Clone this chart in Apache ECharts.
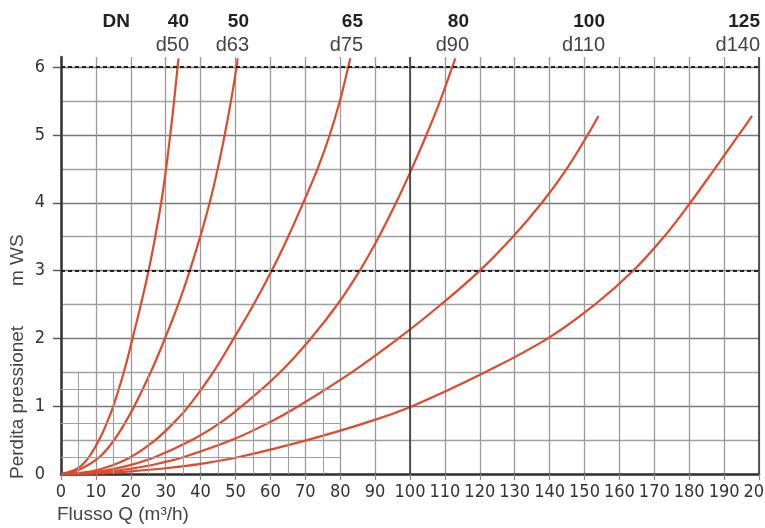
<!DOCTYPE html>
<html><head><meta charset="utf-8">
<script src="https://cdn.jsdelivr.net/npm/echarts@6/dist/echarts.min.js"></script>
<style>html,body{margin:0;padding:0;background:#fff}#c{width:765px;height:528px}</style>
</head><body><div id="c"></div>
<script>
// ---- data ----
const dnLabels = ['40', '50', '65', '80', '100', '125'];
const dLabels = ['d50', 'd63', 'd75', 'd90', 'd110', 'd140'];
const yLabelValues = [0, 1, 2, 3, 4, 5, 6];
const yTickValues = [1, 2, 3, 4, 5, 6];
const fineX = [5, 15, 25, 35, 45, 55, 65, 75];
const fineY = [0.25, 0.75, 1.25];
const fineXEnd = 80;
const fineYTop = 1.5;
const dashedY = [3, 6];
const darkX = [100, 200];

// [Q (m3/h), loss (m WS)]
const dn40 = [[0,0],[5,0.09],[8,0.25],[10.9,0.5],[13.1,0.75],[15,1],[18,1.5],[20.5,2],[22.9,2.5],[25.1,3],[27,3.5],[28.7,4],[30.1,4.5],[31.3,5],[32.4,5.5],[33.4,6],[33.7,6.13]];
const dn50 = [[0,0],[5,0.06],[11,0.25],[15.2,0.5],[18.3,0.75],[21,1],[25.7,1.5],[29.8,2],[33.6,2.5],[36.9,3],[39.9,3.5],[42.6,4],[44.9,4.5],[46.9,5],[48.7,5.5],[50.3,6],[50.6,6.13]];
const dn65 = [[0,0],[8,0.033],[14,0.114],[20,0.25],[27,0.5],[32.2,0.75],[36.6,1],[43.6,1.5],[49.5,2],[55.2,2.5],[60.4,3],[65.1,3.5],[69.4,4],[73.5,4.5],[77,5],[79.9,5.5],[82.3,6],[82.9,6.13]];
const dn80 = [[0,0],[10,0.03],[19,0.12],[27,0.25],[37.5,0.5],[45.5,0.75],[51.8,1],[62.8,1.5],[71.6,2],[79.2,2.5],[85.6,3],[91.1,3.5],[96,4],[100.5,4.5],[104.7,5],[108.6,5.5],[112.1,6],[113,6.13]];
const dn100 = [[0,0],[10,0.018],[20,0.077],[28,0.155],[35.2,0.25],[48.9,0.5],[59.3,0.75],[68,1],[83.3,1.5],[96.7,2],[108.9,2.5],[120,3],[129.5,3.5],[137.8,4],[144.9,4.5],[150.9,5],[154,5.28]];
const dn125 = [[0,0],[10,0.01],[20,0.04],[30,0.085],[40,0.15],[51,0.25],[70.5,0.5],[87,0.75],[100.6,1],[121.5,1.5],[139.5,2],[153,2.5],[164,3],[172.8,3.5],[180.3,4],[187.3,4.5],[194.2,5],[198,5.28]];
const curves = [dn40, dn50, dn65, dn80, dn100, dn125];

// ---- chart ----
const NARROW = '"Liberation Sans Narrow","DejaVu Sans Condensed","Arial Narrow",sans-serif';
const SANS = '"Liberation Sans",Arial,Helvetica,sans-serif';
const RED = '#e04a2c';

const chart = echarts.init(document.getElementById('c'), null, {renderer: 'canvas'});

const gridLines = [];
fineX.forEach(x => gridLines.push([{coord: [x, 0]}, {coord: [x, fineYTop]}]));
fineY.forEach(y => gridLines.push([{coord: [0, y]}, {coord: [fineXEnd, y]}]));

const darkLines = darkX.map(x => [{coord: [x, 0]}, {coord: [x, 6.15]}]);
const dashLines = dashedY.map(y => [{coord: [0, y]}, {coord: [200, y]}]);

function lineSet(data, style) {
  return {
    type: 'line', data: [], silent: true, z: 1,
    markLine: {silent: true, symbol: 'none', animation: false, label: {show: false}, lineStyle: style, data: data}
  };
}
const series = [
  lineSet(gridLines, {color: '#a0a0a0', width: 1.1, type: 'solid'}),
  lineSet(darkLines, {color: '#3a3a3a', width: 1.6, type: 'solid'}),
  lineSet(dashLines, {color: '#222', width: 2, type: [4, 3]})
];
curves.forEach((c, i) => series.push({
  type: 'line', name: dnLabels[i], data: c, smooth: 0.4, showSymbol: false, clip: false,
  lineStyle: {color: RED, width: 2.2}, z: 3, animation: false
}));

const graphics = [
  {type: 'text', x: 130, y: 21.5, style: {text: 'DN', font: 'bold 19px ' + SANS, fill: '#222', align: 'right', verticalAlign: 'middle'}}
];
const labelRight = [189, 249, 363, 469, 605, 760];
dnLabels.forEach((t, i) => {
  graphics.push({type: 'text', x: labelRight[i], y: 21.5, style: {text: t, font: 'bold 19px ' + SANS, fill: '#222', align: 'right', verticalAlign: 'middle'}});
  graphics.push({type: 'text', x: labelRight[i], y: 45, style: {text: dLabels[i], font: '20px ' + SANS, fill: '#444', align: 'right', verticalAlign: 'middle'}});
});
graphics.push({type: 'text', x: 57, y: 515, style: {text: 'Flusso Q (m³/h)', font: '19px ' + SANS, fill: '#444', align: 'left', verticalAlign: 'middle'}});
graphics.push({type: 'text', x: 18, y: 479, rotation: Math.PI / 2, style: {text: 'Perdita pressionet', font: '19px ' + SANS, fill: '#444', align: 'left', verticalAlign: 'middle'}});
graphics.push({type: 'text', x: 18, y: 286, rotation: Math.PI / 2, style: {text: 'm WS', font: '19px ' + SANS, fill: '#444', align: 'left', verticalAlign: 'middle'}});

chart.setOption({
  animation: false,
  backgroundColor: '#fff',
  grid: {left: 61, right: 6, top: 57, bottom: 54, containLabel: false, outerBoundsMode: 'none'},
  xAxis: {
    type: 'value', min: 0, max: 200, interval: 10,
    axisLine: {show: true, onZero: false, lineStyle: {color: '#333', width: 2.5}},
    axisTick: {show: true, length: 6, lineStyle: {color: '#888', width: 1.2}},
    axisLabel: {margin: 9, fontSize: 18, fontFamily: NARROW, color: '#333'},
    splitLine: {show: true, lineStyle: {color: '#9a9a9a', width: 1.3}}
  },
  yAxis: [
    {
      type: 'value', min: 0, max: 6.15, interval: 0.5, position: 'left',
      axisLine: {show: true, onZero: false, lineStyle: {color: '#333', width: 2.5}},
      axisTick: {show: false}, axisLabel: {show: false},
      splitLine: {show: true, showMaxLine: false, lineStyle: {color: ['#777', '#a0a0a0'], width: 1.3}}
    },
    {
      type: 'value', min: 0, max: 6.15, position: 'left', offset: 0,
      axisLine: {show: false},
      axisTick: {show: true, length: 8, customValues: yTickValues, lineStyle: {color: '#555', width: 1.4}},
      axisLabel: {show: true, customValues: yLabelValues, margin: 16, fontSize: 18, fontFamily: NARROW, color: '#333'},
      splitLine: {show: false}
    }
  ],
  series: series,
  graphic: graphics
});
</script>
</body></html>
